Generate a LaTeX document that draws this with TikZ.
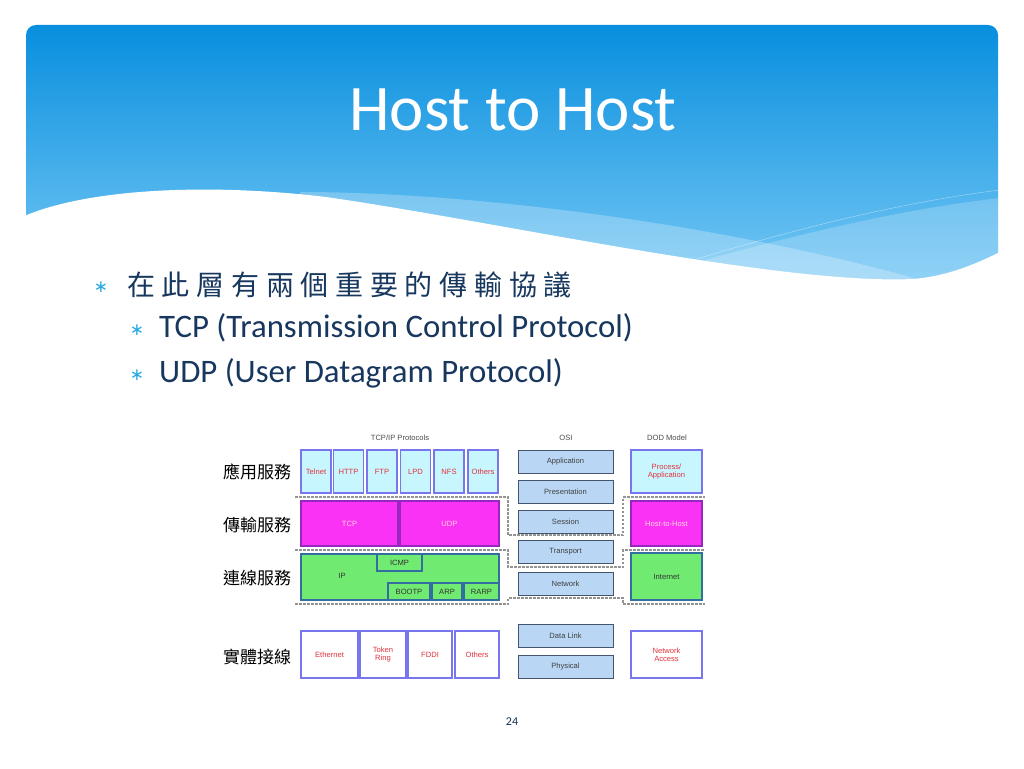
\documentclass[tikz,border=0pt]{standalone}
\usepackage{fontspec}
\setmainfont{Liberation Sans}
\newfontfamily\titlefont{Carlito}
\newfontfamily\cjkfont{Noto Sans CJK TC}
\newfontfamily\cjkspaced[LetterSpace=24]{Noto Sans CJK TC}
\newfontfamily\symfont{DejaVu Sans}
\usepackage{tikz}
\usetikzlibrary{backgrounds}
\definecolor{hdtop}{RGB}{8,143,222}
\definecolor{hdbot}{RGB}{125,203,246}
\definecolor{navy}{RGB}{23,55,94}
\definecolor{bulletblue}{RGB}{41,170,226}
\definecolor{appfill}{RGB}{200,246,255}
\definecolor{appline}{RGB}{120,118,238}
\definecolor{tcpfill}{RGB}{250,50,245}
\definecolor{tcpline}{RGB}{150,40,190}
\definecolor{ipfill}{RGB}{112,234,112}
\definecolor{ipline}{RGB}{50,110,160}
\definecolor{osifill}{RGB}{185,215,245}
\definecolor{osiline}{RGB}{70,85,110}
\definecolor{boxred}{RGB}{225,50,60}
\tikzset{
	small text/.style={font=\fontsize{7.6}{8.4}\selectfont, align=center, inner sep=0pt}
}
\tikzstyle{appbox}=[small text, draw=appline, fill=appfill, line width=1.2pt, text=boxred]
\tikzstyle{tcpbox}=[small text, draw=tcpline, fill=tcpfill, line width=1.2pt, text=pink!60!white]
\tikzstyle{ipbox}=[small text, draw=ipline, fill=ipfill, line width=1.2pt, text=black!80]
\tikzstyle{linkbox}=[small text, draw=appline, fill=white, line width=1.2pt, text=boxred]
\tikzstyle{osibox}=[small text, draw=osiline, fill=osifill, line width=1pt, text=black!75]
\tikzstyle{layerline}=[draw=gray!85, line width=1.3pt, dash pattern=on 2.5pt off 1.5pt]
\tikzstyle{layername}=[font=\cjkfont\fontsize{17}{18}\selectfont]
\tikzstyle{colhead}=[font=\fontsize{7.6}{8.4}\selectfont, text=black!70]

\begin{document}
\begin{tikzpicture}[x=1pt, y=-1pt]
	\useasboundingbox[fill=white] (0,0) rectangle (1024,768);
	% header
	\shade[top color=hdtop, bottom color=hdbot, rounded corners=10pt] (26,25) rectangle (998,300);
	\begin{scope}
		\clip (26,25) rectangle (998,300);
		\fill[white, opacity=.25] (300,192) .. controls (500,192) and (800,235) .. (1000,305) -- (300,305) -- cycle;
		\fill[white, opacity=.2] (560,300) .. controls (700,262) and (850,215) .. (1000,198) -- (1000,305) -- cycle;
		\draw[white, opacity=.5, thin] (600,290) .. controls (750,240) and (880,205) .. (1000,190);
	\end{scope}
	\fill[white] (20,218) .. controls (80,190) and (200,182) .. (326,197)
		.. controls (500,222) and (780,285) .. (913,279)
		.. controls (950,276) and (980,262) .. (1004,250) -- (1004,310) -- (20,310) -- cycle;
	\node[text=white, font=\titlefont\fontsize{65}{70}\selectfont] (title) at (513,110) {Host to Host};
	% bullets
	\node[text=bulletblue, font=\symfont\fontsize{17}{17}\selectfont] (b1) at (101,287) {∗};
	\node[anchor=west, text=navy, inner sep=0pt, font=\cjkspaced\fontsize{28}{30}\selectfont] (line1) at (127,285) {在此層有兩個重要的傳輸協議};
	\node[text=bulletblue, font=\symfont\fontsize{17}{17}\selectfont] (b2) at (137,330) {∗};
	\node[anchor=west, text=navy, inner sep=0pt, font=\titlefont\fontsize{32.8}{36}\selectfont] (line2) at (159,328) {TCP (Transmission Control Protocol)};
	\node[text=bulletblue, font=\symfont\fontsize{17}{17}\selectfont] (b3) at (137,375) {∗};
	\node[anchor=west, text=navy, inner sep=0pt, font=\titlefont\fontsize{32.8}{36}\selectfont] (line3) at (159,373) {UDP (User Datagram Protocol)};
	% column heads
	\node[colhead] (hdtcpip) at (400,438) {TCP/IP Protocols};
	\node[colhead] (hdosi) at (566,438) {OSI};
	\node[colhead] (hddod) at (667,438) {DOD Model};
	% layer names
	\node[layername] (n1) at (257,472) {應用服務};
	\node[layername] (n2) at (257,525) {傳輸服務};
	\node[layername] (n3) at (257,578) {連線服務};
	\node[layername] (n4) at (257,657) {實體接線};
	% layer borders
	\foreach \y/\d in {497/535, 550/567, 604/598}
		\draw[layerline] (295,\y) -- (508,\y) -- (508,\d) -- (623,\d) -- (623,\y) -- (705,\y);
	% TCP/IP
	\foreach \lbl/\x [count=\i] in {Telnet/316,HTTP/348.5,FTP/382,LPD/415.5,NFS/449,Others/483}
		\node[appbox, minimum width=30, minimum height=43] (app\i) at (\x,471.5) {\lbl};
	\node[tcpbox, minimum width=97, minimum height=45] (tcp) at (349.5,523.5) {TCP};
	\node[tcpbox, minimum width=99, minimum height=45] (udp) at (449.5,523.5) {UDP};
	\node[ipbox, minimum width=198, minimum height=46] (ip) at (400,577) {};
	\node[small text, text=black!80] (iplbl) at (342,576) {IP};
	\node[ipbox, minimum width=45, minimum height=17] (icmp) at (399.5,562.5) {ICMP};
	\node[ipbox, minimum width=42, minimum height=17] (bootp) at (409,591.5) {BOOTP};
	\node[ipbox, minimum width=30, minimum height=17] (arp) at (447,591.5) {ARP};
	\node[ipbox, minimum width=35, minimum height=17] (rarp) at (481.5,591.5) {RARP};
	\node[linkbox, minimum width=57, minimum height=47] (eth) at (329.5,654.5) {Ethernet};
	\node[linkbox, minimum width=46, minimum height=47] (token) at (383,654.5) {Token\\Ring};
	\node[linkbox, minimum width=44, minimum height=47] (fddi) at (430,654.5) {FDDI};
	\node[linkbox, minimum width=44, minimum height=47] (lother) at (477,654.5) {Others};
	% OSI
	\foreach \lbl/\y [count=\i] in {Application/461.5,Presentation/491.5,Session/521.5,Transport/551.5,Network/583.5,Data Link/635.5,Physical/666.5}
		\node[osibox, minimum width=95, minimum height=23] (osi\i) at (565.5,\y) {\lbl};
	% DOD
	\node[appbox, minimum width=71, minimum height=43] (dod1) at (666.5,471.5) {Process/\\Application};
	\node[tcpbox, minimum width=71, minimum height=45] (dod2) at (666.5,523.5) {Host-to-Host};
	\node[ipbox, minimum width=71, minimum height=47] (dod3) at (666.5,576.5) {Internet};
	\node[linkbox, minimum width=71, minimum height=47] (dod4) at (666.5,654.5) {Network\\Access};
	% page number
	\node[text=navy, font=\titlefont\fontsize{12}{12}\selectfont] (page) at (512,722) {24};
\end{tikzpicture}
\end{document}
